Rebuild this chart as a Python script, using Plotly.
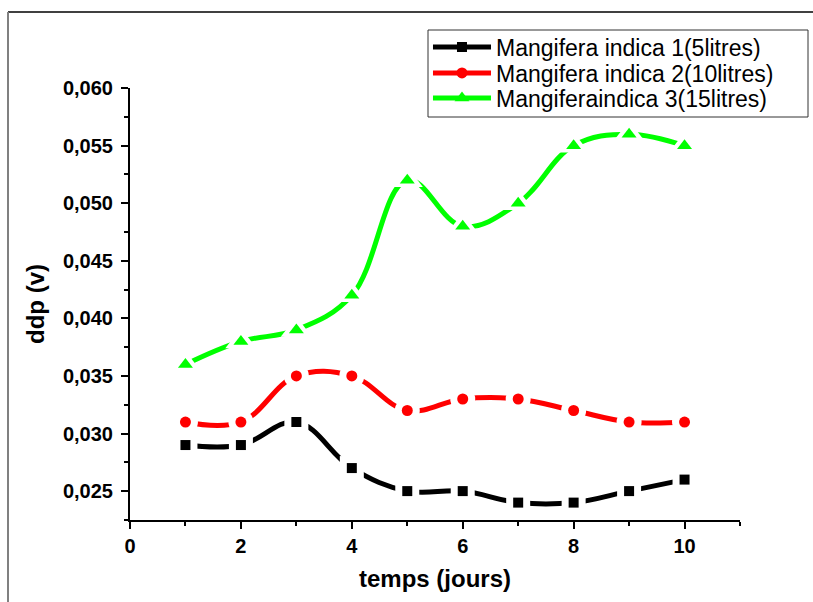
import plotly.graph_objects as go

days = [1, 2, 3, 4, 5, 6, 7, 8, 9, 10]
s1 = [0.029, 0.029, 0.031, 0.027, 0.025, 0.025, 0.024, 0.024, 0.025, 0.026]
s2 = [0.031, 0.031, 0.035, 0.035, 0.032, 0.033, 0.033, 0.032, 0.031, 0.031]
s3 = [0.036, 0.038, 0.039, 0.042, 0.052, 0.048, 0.050, 0.055, 0.056, 0.055]
names = ["Mangifera indica 1(5litres)", "Mangifera indica 2(10litres)", "Mangiferaindica 3(15litres)"]
colors = ["#000000", "#ff0000", "#00ff00"]
symbols = ["square", "circle", "triangle-up"]
msizes = [10, 11, 13]
series = [s1, s2, s3]
legend_ids = ["legend", "legend2", "legend3"]

fig = go.Figure()
for s, n, c, sym, ms, lg in zip(series, names, colors, symbols, msizes, legend_ids):
    fig.add_trace(go.Scatter(x=days, y=s, mode="lines+markers", name=n, legend=lg,
                             line=dict(color=c, width=5, shape="spline", smoothing=1.1),
                             marker=dict(symbol=sym, size=ms, color=c)))
for s, c, sym, ms in zip(series, colors, symbols, msizes):
    fig.add_trace(go.Scatter(x=days, y=s, mode="markers", showlegend=False, hoverinfo="skip",
                             marker=dict(symbol=sym, size=ms + 14, color="white")))
for s, c, sym, ms in zip(series, colors, symbols, msizes):
    fig.add_trace(go.Scatter(x=days, y=s, mode="markers", showlegend=False, hoverinfo="skip",
                             marker=dict(symbol=sym, size=ms, color=c)))

tickfont = dict(family="Liberation Sans, Arial", size=20, color="black", weight="bold")
titlefont = dict(family="Liberation Sans, Arial", size=24, color="black", weight="bold")
legfont = dict(family="Liberation Sans, Arial", size=23, color="black")
row_y = [1.0949, 1.0347, 0.9769]
legends = {}
for lg, yy in zip(legend_ids, row_y):
    legends[lg] = dict(x=0.4885, y=yy, xanchor="left", yanchor="middle",
                       borderwidth=0, bgcolor="rgba(0,0,0,0)", font=legfont, itemwidth=58)

fig.update_layout(
    width=813, height=602,
    margin=dict(l=130, r=73, t=88, b=82),
    plot_bgcolor="white", paper_bgcolor="white",
    separators=", ",
    showlegend=True,
    **legends,
    xaxis=dict(range=[0, 11.0001], showline=True, linecolor="black", linewidth=2,
               ticks="outside", ticklen=7, tickwidth=2, tickcolor="black",
               dtick=2, tick0=0, showgrid=False, zeroline=False,
               minor=dict(dtick=1, ticks="outside", ticklen=4, tickwidth=2, tickcolor="black"),
               tickfont=tickfont,
               title=dict(text="temps (jours)", font=titlefont, standoff=14)),
    yaxis=dict(range=[0.02249, 0.06001], showline=True, linecolor="black", linewidth=2,
               ticks="outside", ticklen=7, tickwidth=2, tickcolor="black",
               dtick=0.005, tick0=0.025, tickformat=".3f", showgrid=False, zeroline=False,
               minor=dict(dtick=0.0025, ticks="outside", ticklen=4, tickwidth=2, tickcolor="black"),
               tickfont=tickfont, ticklabelstandoff=4,
               title=dict(text="ddp (v)", font=titlefont, standoff=12)),
    shapes=[
        dict(type="line", xref="paper", yref="paper", x0=-0.2, x1=1.2, y0=1.176, y1=1.176,
             line=dict(color="black", width=1.5)),
        dict(type="line", xref="paper", yref="paper", x0=-0.2, x1=-0.2, y0=1.176, y1=-0.2,
             line=dict(color="#808080", width=2)),
        dict(type="rect", xref="paper", yref="paper",
             x0=(428 - 130) / 610, x1=(808 - 130) / 610,
             y0=(520 - 117) / 432, y1=(520 - 30) / 432,
             line=dict(color="#333333", width=1), fillcolor="rgba(0,0,0,0)"),
    ],
)
fig.write_html("out.html")
